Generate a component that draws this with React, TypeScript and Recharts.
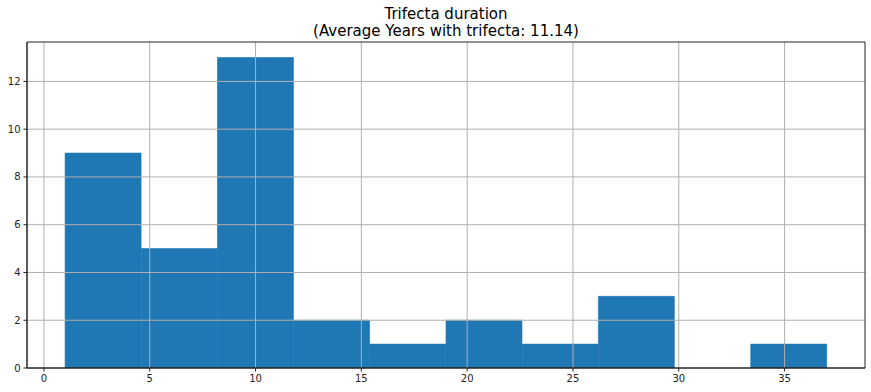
import React from 'react';
import { ComposedChart, Bar, XAxis, YAxis, ReferenceLine } from 'recharts';

// histogram bins (10 bins from 1 to 37)
const binCenters = [2.8, 6.4, 10, 13.6, 17.2, 20.8, 24.4, 28, 31.6, 35.2];
const counts = [9, 5, 13, 2, 1, 2, 1, 3, 0, 1];
const xTicks = [0, 5, 10, 15, 20, 25, 30, 35];
const yTicks = [0, 2, 4, 6, 8, 10, 12];

const data = binCenters.map((x, i) => ({ x, count: counts[i] }));

const FONT = '"DejaVu Sans", sans-serif';
const X_DOMAIN: [number, number] = [-0.8, 38.8];
const Y_DOMAIN: [number, number] = [0, 13.65];
const GRID = '#b0b0b0';
const SPINE = '#222';

const App: React.FC = () => {
    return (
        <div style={{ position: 'absolute', left: 0, top: 0, width: 871, height: 392, background: '#fff', fontFamily: FONT }}>
            <div style={{ position: 'absolute', left: 27, width: 838, top: 6, textAlign: 'center', fontSize: 15, lineHeight: '17px', color: '#000' }}>
                <div>Trifecta duration</div>
                <div>(Average Years with trifecta: 11.14)</div>
            </div>
            <ComposedChart
                width={871}
                height={392}
                data={data}
                margin={{ top: 42, right: 6, bottom: 0, left: 0 }}
                barCategoryGap={0}
                barGap={0}
            >
                <XAxis
                    dataKey="x"
                    type="number"
                    domain={X_DOMAIN}
                    ticks={xTicks}
                    allowDataOverflow
                    height={24}
                    tickSize={3.5}
                    tickMargin={3}
                    axisLine={{ stroke: SPINE, strokeWidth: 1 }}
                    tickLine={{ stroke: SPINE }}
                    tick={{ fill: '#222', fontSize: 10, fontFamily: FONT }}
                />
                <YAxis
                    type="number"
                    domain={Y_DOMAIN}
                    ticks={yTicks}
                    allowDataOverflow
                    width={27}
                    tickSize={3.5}
                    tickMargin={3}
                    axisLine={{ stroke: SPINE, strokeWidth: 1 }}
                    tickLine={{ stroke: SPINE }}
                    tick={{ fill: '#222', fontSize: 10, fontFamily: FONT }}
                />
                <Bar dataKey="count" fill="#1f77b4" stroke="#1f77b4" strokeWidth={0.6} isAnimationActive={false} />
                {/* grid drawn over the bars like matplotlib's default */}
                {xTicks.map((t) => (
                    <ReferenceLine key={'gx' + t} x={t} stroke={GRID} strokeWidth={1} />
                ))}
                {yTicks.filter((t) => t > 0).map((t) => (
                    <ReferenceLine key={'gy' + t} y={t} stroke={GRID} strokeWidth={1} />
                ))}
                <ReferenceLine y={Y_DOMAIN[1]} stroke={SPINE} strokeWidth={1} />
                <ReferenceLine y={Y_DOMAIN[0]} stroke={SPINE} strokeWidth={1} />
                <ReferenceLine x={X_DOMAIN[0]} stroke={SPINE} strokeWidth={1} />
                <ReferenceLine x={X_DOMAIN[1]} stroke={SPINE} strokeWidth={1} />
            </ComposedChart>
        </div>
    );
};

export default App;
